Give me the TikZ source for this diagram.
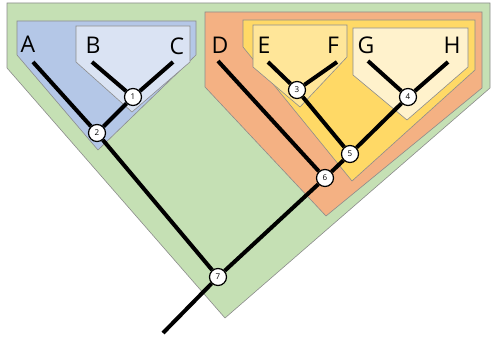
\documentclass[tikz,border=0pt]{standalone}
\usepackage{fontspec}
\setmainfont{Open Sans}
\usepackage{tikz}
\usetikzlibrary{positioning}
\definecolor{cladeGreen}{RGB}{197,224,180}
\definecolor{cladeBlue}{RGB}{180,199,231}
\definecolor{cladePaleBlue}{RGB}{218,227,243}
\definecolor{cladeOrange}{RGB}{244,177,131}
\definecolor{cladeYellow}{RGB}{255,217,102}
\definecolor{cladeSand}{RGB}{255,230,153}
\definecolor{cladeCream}{RGB}{255,242,204}
\tikzstyle{clade} = [draw = black!45, line width = 0.6]
\tikzstyle{leaf} = [inner sep = 0, text centered,
  font = \fontsize{23}{23}\selectfont]
\tikzstyle{split} = [
  circle, draw = black, fill = white,
  line width = 1.2, minimum size = 17, inner sep = 0,
  font = \fontsize{8}{8}\selectfont
]
\tikzstyle{branch} = [line width = 4, black]

\begin{document}
\begin{tikzpicture}[x = 1pt, y = -1pt]
      \useasboundingbox (0, 0) rectangle (491, 337);
      % clades
      \filldraw [clade, fill = cladeGreen] (7, 3) -- (490, 3) -- (490, 88)
        -- (225, 318) -- (7, 68) -- cycle;
      \filldraw [clade, fill = cladeBlue] (17, 21) -- (196, 21) -- (196, 55)
        -- (98, 150) -- (17, 55) -- cycle;
      \filldraw [clade, fill = cladePaleBlue] (76, 26) -- (190, 26) -- (190, 62)
        -- (132, 112) -- (76, 62) -- cycle;
      \filldraw [clade, fill = cladeOrange] (205, 12) -- (482, 12) -- (482, 88)
        -- (326, 216) -- (205, 87) -- cycle;
      \filldraw [clade, fill = cladeYellow] (243, 20) -- (475, 20) -- (475, 70)
        -- (352, 181) -- (243, 47) -- cycle;
      \filldraw [clade, fill = cladeSand] (253, 25) -- (347, 25) -- (347, 57)
        -- (300, 107) -- (253, 67) -- cycle;
      \filldraw [clade, fill = cladeCream] (353, 28) -- (468, 28) -- (468, 67)
        -- (407, 120) -- (353, 75) -- cycle;

      % leaves
      \node [leaf] (A) at (28, 44) {A};
      \node [leaf] (B) at (93, 45) {B};
      \node [leaf] (C) at (177, 46) {C};
      \node [leaf] (D) at (220, 45) {D};
      \node [leaf] (E) at (264, 45) {E};
      \node [leaf] (F) at (333, 45) {F};
      \node [leaf] (G) at (366, 45) {G};
      \node [leaf] (H) at (452, 45) {H};
      \coordinate (tip-A) at (33, 62);
      \coordinate (tip-B) at (92, 62);
      \coordinate (tip-C) at (173, 62);
      \coordinate (tip-D) at (218, 61);
      \coordinate (tip-E) at (268, 62);
      \coordinate (tip-F) at (337, 62);
      \coordinate (tip-G) at (368, 61);
      \coordinate (tip-H) at (448, 62);
      \coordinate (root) at (163, 333);

      % splits
      \node [split] (split-1) at (133, 97) {1};
      \node [split] (split-2) at (97, 133) {2};
      \node [split] (split-3) at (297, 90) {3};
      \node [split] (split-4) at (408, 97) {4};
      \node [split] (split-5) at (350, 154) {5};
      \node [split] (split-6) at (325, 178) {6};
      \node [split] (split-7) at (218, 277) {7};

      \draw [branch] (tip-B) -- (split-1);
      \draw [branch] (tip-C) -- (split-1);
      \draw [branch] (tip-A) -- (split-2);
      \draw [branch] (split-1) -- (split-2);
      \draw [branch] (split-2) -- (split-7);
      \draw [branch] (tip-E) -- (split-3);
      \draw [branch] (tip-F) -- (split-3);
      \draw [branch] (tip-G) -- (split-4);
      \draw [branch] (tip-H) -- (split-4);
      \draw [branch] (split-3) -- (split-5);
      \draw [branch] (split-4) -- (split-5);
      \draw [branch] (split-5) -- (split-6);
      \draw [branch] (tip-D) -- (split-6);
      \draw [branch] (split-6) -- (split-7);
      \draw [branch] (split-7) -- (root);
    \end{tikzpicture}
\end{document}
